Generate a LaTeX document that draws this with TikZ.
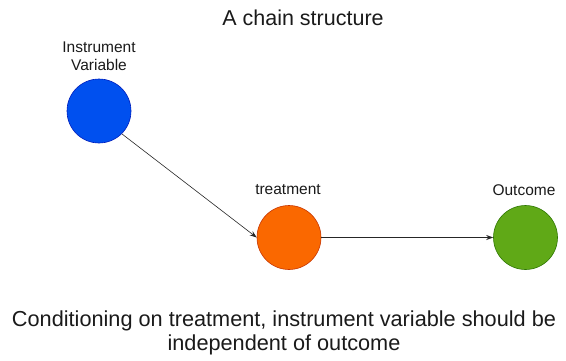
\documentclass[tikz,border=0pt]{standalone}
\usepackage{fontspec}
\setmainfont{Liberation Sans}
\usetikzlibrary{arrows.meta}
\definecolor{bluefill}{HTML}{0050EF}
\definecolor{blueline}{HTML}{001DBC}
\definecolor{orangefill}{HTML}{FA6800}
\definecolor{orangeline}{HTML}{C73500}
\definecolor{greenfill}{HTML}{60A917}
\definecolor{greenline}{HTML}{2D7600}
\definecolor{txt}{HTML}{1A1A1A}
\begin{document}
\begin{tikzpicture}[x=1pt,y=-1pt,
  varnode/.style={circle,minimum size=64pt,inner sep=0pt,line width=0.6pt},
  lbl/.style={font=\fontsize{15.5}{18}\selectfont,text=txt,align=center},
  conn/.style={draw=black!85,line width=0.6pt,-{Stealth[length=7pt,width=5pt]}}]
\useasboundingbox (0,0) rectangle (566,360);
\node[lbl,font=\fontsize{21.5}{24}\selectfont] (title) at (303,18) {A chain structure};
\node[varnode,fill=bluefill,draw=blueline] (iv) at (99,111) {};
\node[varnode,fill=orangefill,draw=orangeline] (tr) at (289,237.5) {};
\node[varnode,fill=greenfill,draw=greenline] (out) at (525.5,237.5) {};
\node[lbl] (ivl) at (99,56) {Instrument\\Variable};
\node[lbl] (trl) at (288,190) {treatment};
\node[lbl] (outl) at (524,190) {Outcome};
\draw[conn] (iv.south east) -- (tr.west);
\draw[conn] (tr) -- (out);
\node[lbl,font=\fontsize{21.7}{24}\selectfont] (note) at (284,333) {Conditioning on treatment, instrument variable should be\\independent of outcome};
\end{tikzpicture}
\end{document}
